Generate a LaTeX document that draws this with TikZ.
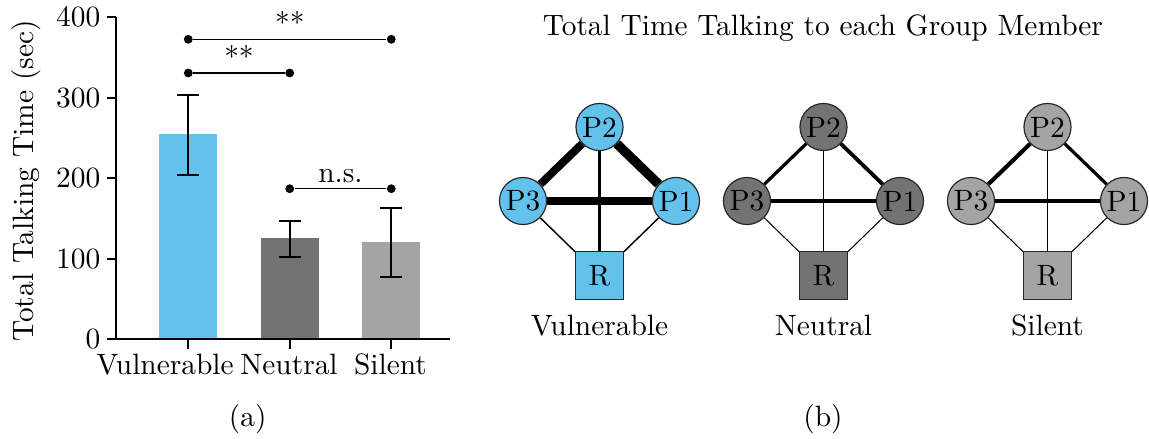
\documentclass[tikz,border=0pt]{standalone}
\usepackage{amsmath}
\usepackage{tikz}

\definecolor{vulblue}{RGB}{99,194,236}
\definecolor{neugray}{RGB}{114,115,114}
\definecolor{silgray}{RGB}{163,164,163}

\tikzset{
  pnode/.style={circle,draw=black!85,line width=0.4pt,minimum size=16pt,inner sep=0pt},
  rnode/.style={rectangle,draw=black!85,line width=0.4pt,minimum size=16.3pt,inner sep=0pt},
  sigdot/.style={fill,circle,inner sep=0pt,minimum size=3pt},
  errbar/.style={line width=0.65pt}
}

\begin{document}
\begin{tikzpicture}[x=0.34pt,y=-0.34pt]
    \useasboundingbox (0,0) rectangle (1149,439);
    % (a) bar chart
    \fill[vulblue] (159,339.3) rectangle (217,134);
    \fill[neugray] (261,339.3) rectangle (319,238);
    \fill[silgray] (362,339.3) rectangle (420,242);
    \draw[line width=0.7pt] (116,16.7) -- (116,339.3) -- (450,339.3);
    \foreach \v/\yy in {0/339.3,100/258.7,200/178,300/97.7,400/16.7}
      \draw[line width=0.7pt] (106.7,\yy) -- (116,\yy) node[left=0pt,inner sep=0pt,xshift=-5] {\v};
    \node (vul) at (165,375) [anchor=base] {Vulnerable};
    \node (neu) at (289,375) [anchor=base] {Neutral};
    \node (sil) at (390.5,375) [anchor=base] {Silent};
    \foreach \xx in {188.3,289.7,391.3}
      \draw[line width=0.7pt] (\xx,339.3) -- (\xx,349.3);
    \node[rotate=90] (ylab) at (26,181) {Total Talking Time (sec)};
    % error bars
    \draw[errbar] (188.3,94.7) -- (188.3,175.3) (177.3,94.7) -- (199.3,94.7) (177.3,175.3) -- (199.3,175.3);
    \draw[errbar] (289.7,221.3) -- (289.7,257) (278.7,221.3) -- (300.7,221.3) (278.7,257) -- (300.7,257);
    \draw[errbar] (391.3,208) -- (391.3,277.3) (380.3,208) -- (402.3,208) (380.3,277.3) -- (402.3,277.3);
    % significance
    \node[sigdot] (s1a) at (188.3,39.3) {};
    \node[sigdot] (s1b) at (391.3,39.3) {};
    \draw[line width=0.5pt] (s1a) -- node[anchor=base,yshift=2] {**} (s1b);
    \node[sigdot] (s2a) at (188.3,73) {};
    \node[sigdot] (s2b) at (289.7,73) {};
    \draw[line width=0.5pt] (s2a) -- node[anchor=base,yshift=2] {**} (s2b);
    \node[sigdot] (s3a) at (289.7,188.7) {};
    \node[sigdot] (s3b) at (391.3,188.7) {};
    \draw[line width=0.5pt] (s3a) -- node[anchor=base,yshift=2] {n.s.} (s3b);
    \node (capa) at (247.7,427) [anchor=base] {(a)};
    % (b) networks
    \node (title) at (823,36) [anchor=base] {Total Time Talking to each Group Member};
    \foreach \cx/\grp/\tone/\ewa/\ewb/\ewc/\ewd/\ewe/\ewf [count=\i] in {
      599.5/Vulnerable/vulblue/2.7/3.2/2.8/0.7/0.5/0.5,
      823.5/Neutral/neugray/1.1/1.3/1.3/0.4/0.35/0.35,
      1047.5/Silent/silgray/1.4/1.1/1.1/0.45/0.35/0.35}{
      \node[pnode,fill=\tone] (p2\i) at (\cx,127) {P2};
      \node[pnode,fill=\tone] (p3\i) at (\cx-76.5,201) {P3};
      \node[pnode,fill=\tone] (p1\i) at (\cx+76.5,201) {P1};
      \node[rnode,fill=\tone] (r\i) at (\cx,275.5) {R};
      \draw[line width=\ewa pt] (p2\i) -- (p3\i);
      \draw[line width=\ewb pt] (p2\i) -- (p1\i);
      \draw[line width=\ewc pt] (p3\i) -- (p1\i);
      \draw[line width=\ewd pt] (p2\i) -- (r\i);
      \draw[line width=\ewe pt] (p3\i) -- (r\i);
      \draw[line width=\ewf pt] (p1\i) -- (r\i);
      \node (lab\i) at (\cx,336) [anchor=base] {\grp};
    }
    \node (capb) at (823,427) [anchor=base] {(b)};
\end{tikzpicture}
\end{document}
